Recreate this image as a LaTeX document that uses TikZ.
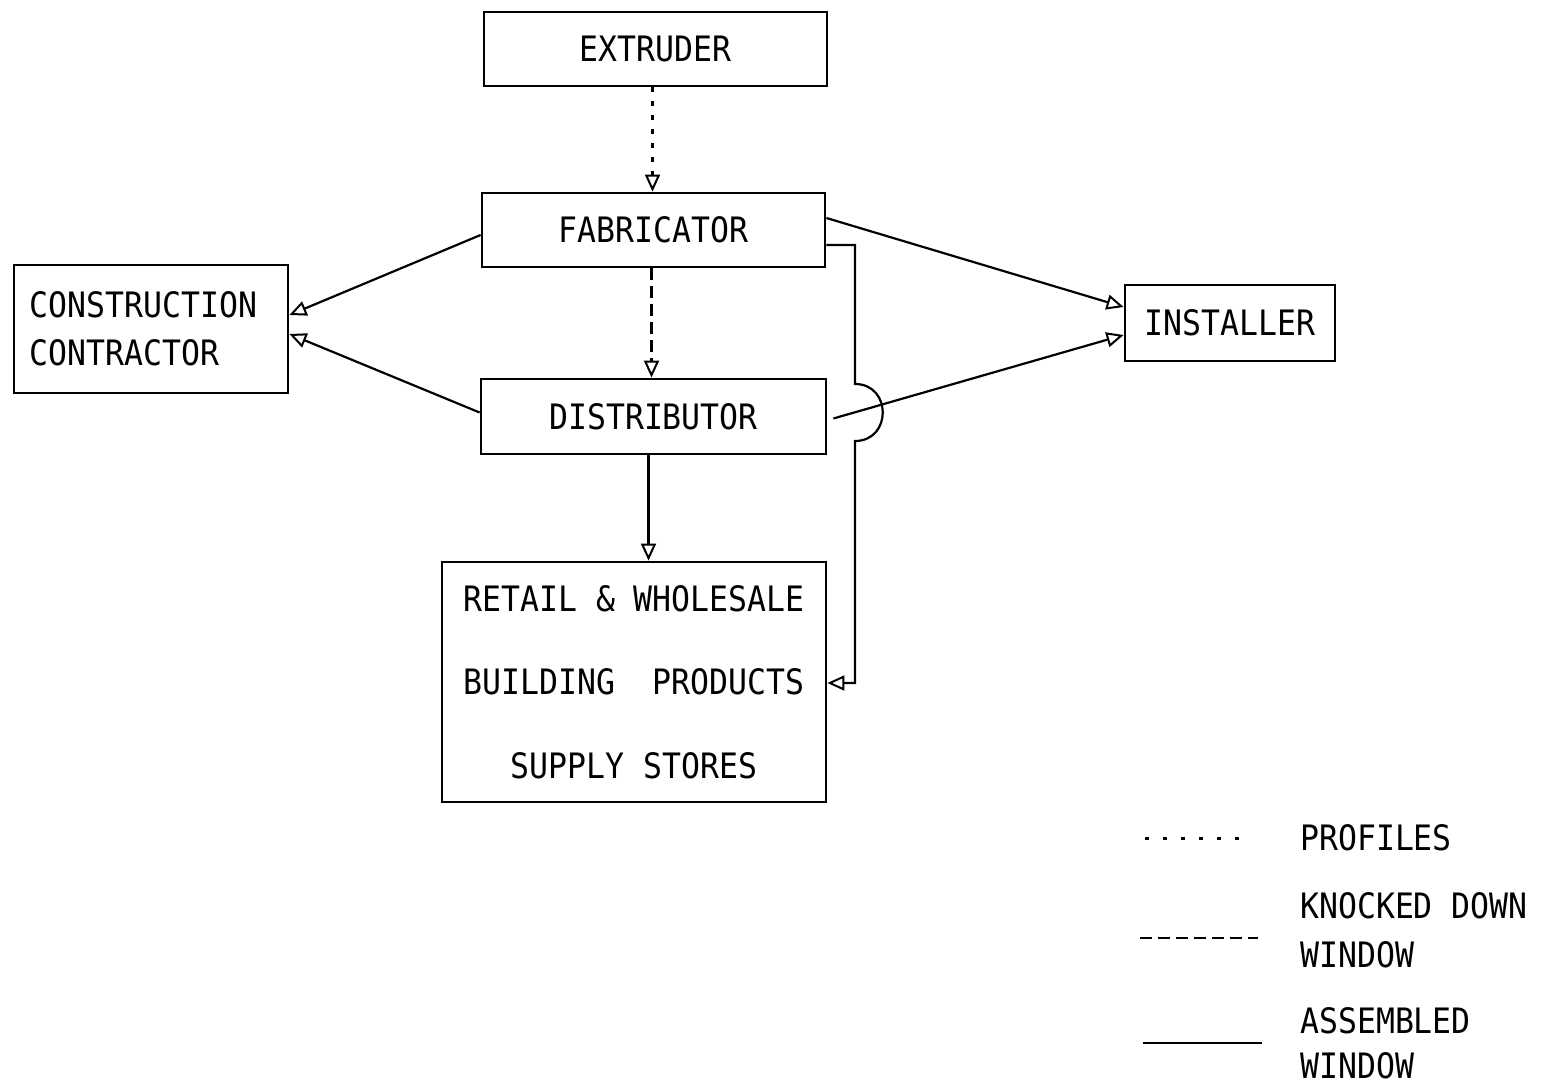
\documentclass[tikz,border=0pt]{standalone}
\usepackage{fontspec}
\usetikzlibrary{arrows.meta}
\newfontfamily\typefont[FakeStretch=0.9]{DejaVu Sans Mono}
\begin{document}
\begin{tikzpicture}[x=1pt,y=-1pt,
  every node/.style={font=\typefont\fontsize{35}{42}\selectfont},
  box/.style={draw, line width=2.8pt, inner sep=0pt, minimum width=#1},
  flowtip/.style={-{Triangle[open,length=17pt,width=15pt,line width=2pt]}},
  profile/.style={line width=2.6pt, dash pattern=on 5pt off 9pt},
  knocked/.style={line width=2.2pt, dash pattern=on 12pt off 6pt},
  assembled/.style={line width=2.2pt},
  label/.style={anchor=west, inner sep=0pt}]
\useasboundingbox (0,0) rectangle (1551,1086);

% stages of the supply chain (shifts are in page units: positive yshift is up)
\node[box=343pt, minimum height=74pt] (ext) at (655.5,49) {EXTRUDER};
\node[box=343pt, minimum height=74pt] (fab) at (653.5,230) {FABRICATOR};
\node[box=345pt, minimum height=75pt] (dis) at (653.5,416.5) {DISTRIBUTOR};
\node[box=274pt, minimum height=128pt, align=left, text width=242pt,
      font=\typefont\fontsize{35}{48}\selectfont] (con) at (151,329)
      {CONSTRUCTION\\CONTRACTOR};
\node[box=210pt, minimum height=76pt] (ins) at (1230,323) {INSTALLER};
\node[box=384pt, minimum height=240pt, align=center,
      font=\typefont\fontsize{35}{83.5}\selectfont] (ret) at (634,682)
      {RETAIL \& WHOLESALE\\BUILDING\ \ PRODUCTS\\SUPPLY STORES};

% profiles
\draw[profile, flowtip] ([xshift=-3pt]ext.south) -- ([xshift=-1pt]fab.north);
% knocked down windows
\draw[knocked, flowtip] ([xshift=-2pt]fab.south) -- ([xshift=-2pt]fab.south |- dis.north);
% assembled windows
\draw[assembled, flowtip] ([xshift=-5pt]dis.south) -- ([xshift=-5pt]dis.south |- ret.north);
\draw[assembled, flowtip] ([yshift=-5pt]fab.west) -- ([yshift=14pt]con.east);
\draw[assembled, flowtip] ([yshift=4pt]dis.west) -- ([yshift=-5pt]con.east);
\draw[assembled, flowtip] ([yshift=12pt]fab.east) -- ([yshift=16pt]ins.west);
\draw[assembled, flowtip] ([xshift=6pt,yshift=-2pt]dis.east) -- ([yshift=-12pt]ins.west);
\draw[assembled, flowtip] ([yshift=-15pt]fab.east) -- (855,245) -- (855,384)
  .. controls (892,384) and (892,441) .. (855,441)
  -- (855,683) -- ([yshift=-1pt]ret.east);

% legend
\coordinate (pa) at (1145,838);  \coordinate (pb) at (1252,838);
\coordinate (ka) at (1140,938);  \coordinate (kb) at (1258,938);
\coordinate (aa) at (1143,1043); \coordinate (ab) at (1262,1043);
\draw[profile, line width=3pt, dash pattern=on 4pt off 14pt] (pa) -- (pb);
\draw[knocked] (ka) -- (kb);
\draw[assembled] (aa) -- (ab);
\node[label] (lp) at (1300,838) {PROFILES};
\node[label] (lk1) at (1300,906) {KNOCKED DOWN};
\node[label] (lk2) at (1300,955) {WINDOW};
\node[label] (la1) at (1300,1021) {ASSEMBLED};
\node[label] (la2) at (1300,1066) {WINDOW};
\end{tikzpicture}
\end{document}
